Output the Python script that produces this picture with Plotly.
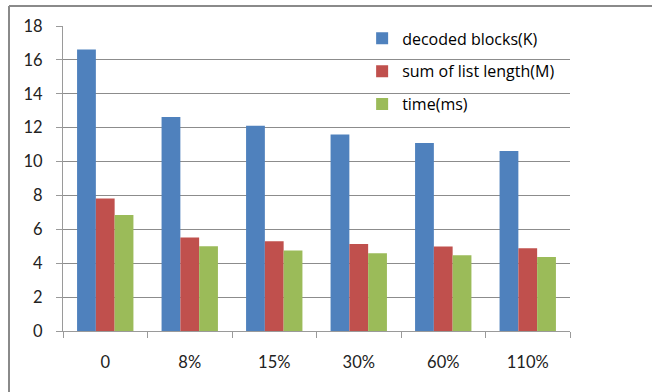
import plotly.graph_objects as go

categories = ["0", "8%", "15%", "30%", "60%", "110%"]
decoded_blocks = [16.62, 12.63, 12.12, 11.6, 11.09, 10.63]
list_length = [7.82, 5.52, 5.3, 5.14, 4.98, 4.88]
time_ms = [6.85, 5.0, 4.75, 4.59, 4.47, 4.37]
y_ticks = [0, 2, 4, 6, 8, 10, 12, 14, 16, 18]

series = [
    ("decoded blocks(K)", decoded_blocks, "#4f81bd"),
    ("sum of list length(M)", list_length, "#c0504d"),
    ("time(ms)", time_ms, "#9bbb59"),
]

FONT = "Lato, Carlito, Calibri, sans-serif"
LEGEND_FONT = "'Open Sans', Carlito, Calibri, sans-serif"

fig = go.Figure()
for name, vals, color in series:
    fig.add_trace(go.Bar(
        x=categories, y=vals, name=name, legendgroup=name,
        marker=dict(color=color, line=dict(width=0)),
    ))

fig.update_layout(
    width=652, height=392,
    margin=dict(l=63, r=82, t=26, b=61),
    paper_bgcolor="white", plot_bgcolor="white",
    barmode="group", bargap=0.333, bargroupgap=0,
    font=dict(family=FONT, size=16.5, color="#222222"),
    showlegend=True,
    legend=dict(
        x=0.59, y=1.015, xanchor="left", yanchor="top",
        bgcolor="rgba(0,0,0,0)", tracegroupgap=9,
        font=dict(family=LEGEND_FONT, size=16, color="#000000"),
        traceorder="grouped",
    ),
    xaxis=dict(
        type="category", showgrid=False,
        showline=True, linecolor="#9a9a9a", linewidth=1,
        ticks="outside", tickson="boundaries", ticklen=6, tickcolor="#9a9a9a",
        ticklabelstandoff=16,
    ),
    yaxis=dict(
        range=[0, 18], tickvals=y_ticks, showgrid=True,
        gridcolor="#8c8c8c", gridwidth=1,
        showline=True, linecolor="#9a9a9a", linewidth=1,
        ticks="outside", ticklen=6, tickcolor="#9a9a9a",
        zeroline=False, ticklabelstandoff=10,
    ),
    shapes=[
        dict(type="line", xref="paper", yref="paper",
             x0=-54 / 507, x1=1.3, y0=(392 - 61 - 6) / 305, y1=(392 - 61 - 6) / 305,
             line=dict(color="#8a8a8a", width=2)),
        dict(type="line", xref="paper", yref="paper",
             x0=-54 / 507, x1=-54 / 507, y0=-0.3, y1=(392 - 61 - 6) / 305,
             line=dict(color="#8a8a8a", width=2)),
    ],
)

fig.write_html("out.html")
